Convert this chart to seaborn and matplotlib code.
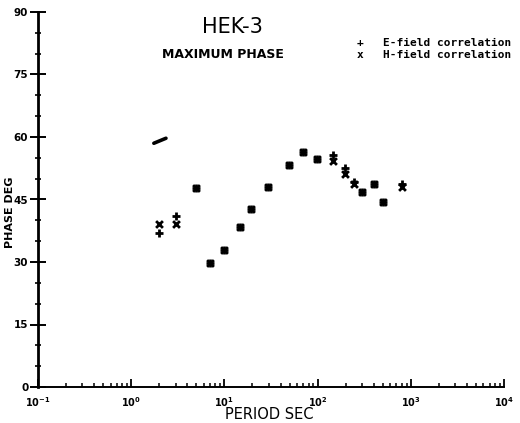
import matplotlib
matplotlib.use("Agg")
import matplotlib.pyplot as plt
import matplotlib.ticker as mticker
import numpy as np
import pandas as pd
import seaborn as sns

# Period (s) of each estimate
period = [2.0, 3.0, 4.93, 6.97, 10.0, 14.7, 19.5, 29.4, 49.3, 69.2,
          98.0, 146.0, 199.0, 248.0, 299.0, 399.0, 501.0, 803.0]
# Maximum phase (deg) from the E-field correlation
phase_e = [36.9, 41.1, 47.7, 29.7, 32.9, 38.3, 42.6, 48.1, 53.3, 56.3,
           54.7, 55.7, 52.5, 49.3, 46.7, 48.7, 44.5, 48.6]
# Maximum phase (deg) from the H-field correlation
phase_h = [39.1, 39.1, 47.7, 29.7, 32.9, 38.3, 42.6, 48.1, 53.3, 56.3,
           54.7, 54.3, 51.0, 48.7, 46.7, 48.7, 44.5, 47.9]
# short pen stroke near 2 s
stroke_period = [1.75, 2.36]
stroke_phase = [58.5, 59.7]

y_ticks = [0, 15, 30, 45, 60, 75, 90]
x_decades = [-1, 0, 1, 2, 3, 4]

sns.set_style("ticks")
plt.rcParams["font.family"] = ["DejaVu Sans"]
plt.rcParams.update({
    "text.color": "black",
    "axes.labelcolor": "black",
    "axes.edgecolor": "black",
    "xtick.color": "black",
    "ytick.color": "black",
})

fig = plt.figure(figsize=(5.2, 4.23), dpi=100)
ax = fig.add_axes([38 / 520, 1 - 387 / 423, (504 - 38) / 520, (387 - 12) / 423])

df_e = pd.DataFrame({"period": period, "phase": phase_e})
df_h = pd.DataFrame({"period": period, "phase": phase_h})

sns.scatterplot(data=df_e, x="period", y="phase", marker="+", s=32,
                linewidth=2.0, color="black", ax=ax, legend=False)
sns.scatterplot(data=df_h, x="period", y="phase", marker="x", s=24,
                linewidth=2.0, color="black", ax=ax, legend=False)
sns.lineplot(x=stroke_period, y=stroke_phase, color="black", lw=2.6,
             ax=ax, legend=False)

ax.set_xscale("log")
ax.set_xlim(10.0 ** x_decades[0], 10.0 ** x_decades[-1])
ax.set_ylim(y_ticks[0], y_ticks[-1])

ax.set_yticks(y_ticks)
ax.set_yticklabels([str(v) for v in y_ticks], fontsize=7.5, fontweight="bold")
ax.yaxis.set_minor_locator(mticker.MultipleLocator(5))

ax.set_xticks([10.0 ** d for d in x_decades])
ax.set_xticklabels([r"$\mathbf{10^{%d}}$" % d for d in x_decades], fontsize=7)
ax.xaxis.set_minor_locator(mticker.LogLocator(base=10, subs=np.arange(2, 10)))
ax.xaxis.set_minor_formatter(mticker.NullFormatter())

ax.tick_params(axis="y", which="major", direction="inout", length=11, width=1.4, pad=1.5)
ax.tick_params(axis="y", which="minor", direction="inout", length=5, width=1.2)
ax.tick_params(axis="x", which="major", direction="in", length=6, width=1.3, pad=6)
ax.tick_params(axis="x", which="minor", direction="in", length=3, width=1.1)

for side in ("top", "right"):
    ax.spines[side].set_visible(False)
ax.spines["left"].set_linewidth(2.0)
ax.spines["bottom"].set_linewidth(1.4)

ax.set_xlabel("")
ax.set_ylabel("")

fig.text(10 / 520, 1 - 212 / 423, "PHASE DEG", rotation=90, ha="center",
         va="center", fontsize=8, fontweight="bold")
fig.text(269 / 520, 1 - 414 / 423, "PERIOD SEC", ha="center", va="center",
         fontsize=10.5)
fig.text(232 / 520, 1 - 27 / 423, "HEK-3", ha="center", va="center",
         fontsize=15)
fig.text(223 / 520, 1 - 54 / 423, "MAXIMUM PHASE", ha="center", va="center",
         fontsize=9, fontweight="bold")

legend_rows = [("+", "E-field correlation"), ("x", "H-field correlation")]
for i, (sym, label) in enumerate(legend_rows):
    yy = 1 - (43 + 12 * i) / 423
    fig.text(360 / 520, yy, sym, ha="center", va="center", fontsize=8,
             fontweight="bold", family="DejaVu Sans Mono")
    fig.text(383 / 520, yy, label, ha="left", va="center", fontsize=8,
             fontweight="bold", family="DejaVu Sans Mono")

fig.savefig("out.png", dpi=100)
